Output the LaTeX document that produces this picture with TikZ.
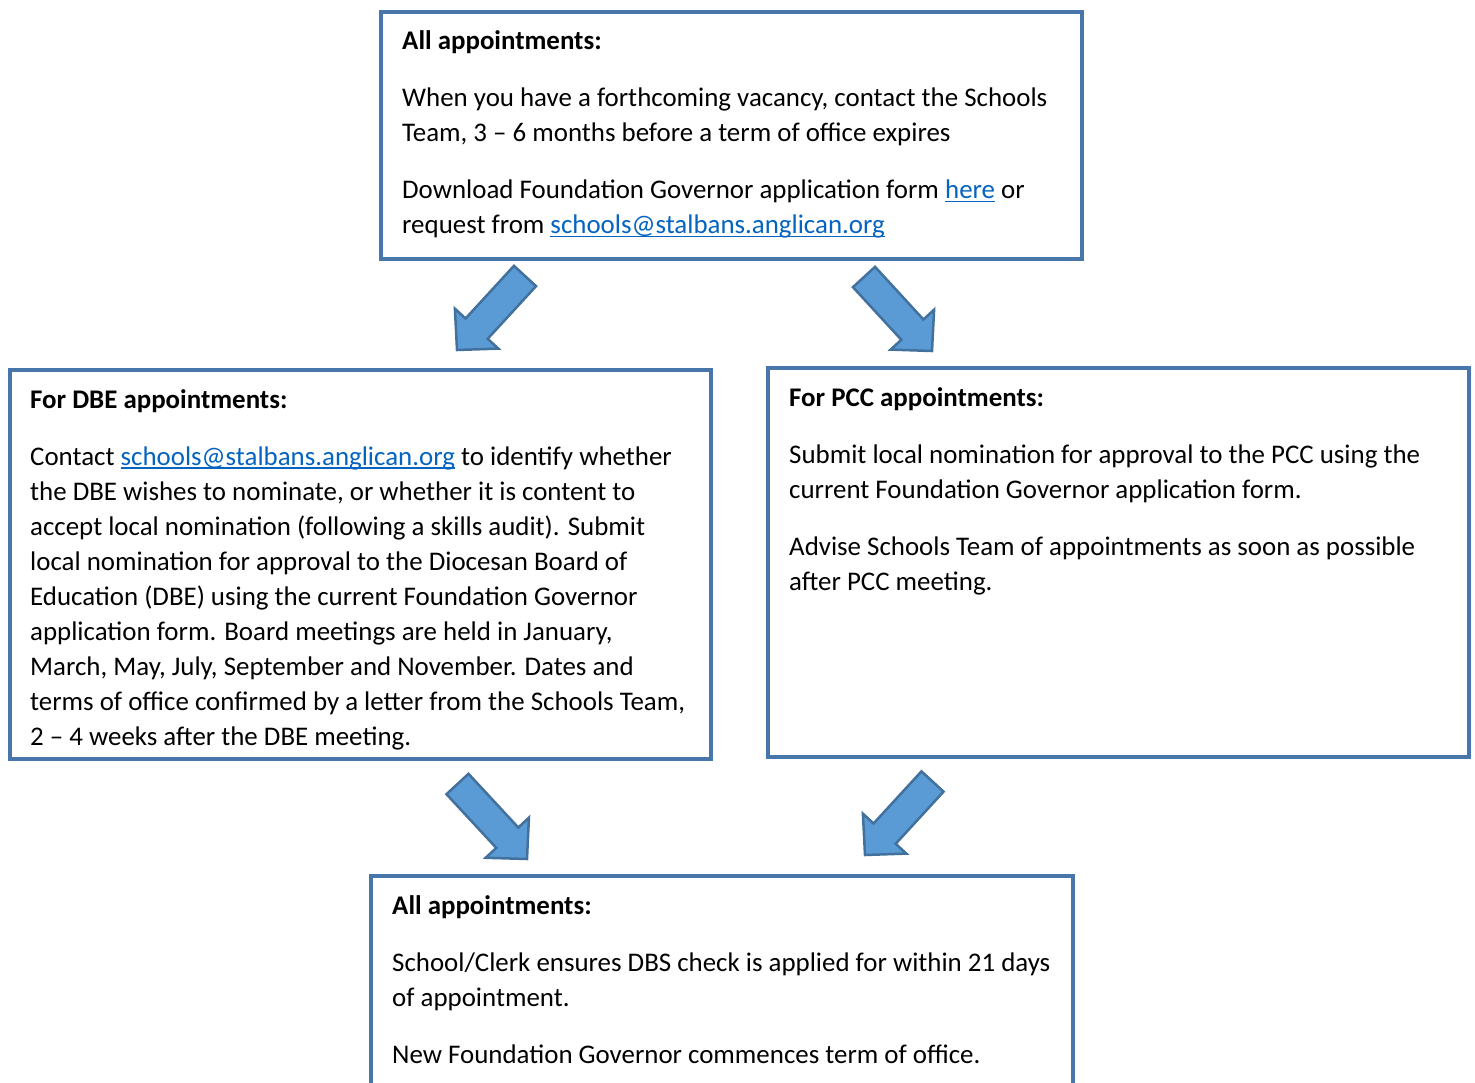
\documentclass[tikz,border=0pt]{standalone}
\usepackage{fontspec}
\setmainfont{Carlito}
\usetikzlibrary{calc}
\definecolor{boxblue}{RGB}{72,118,170}
\definecolor{arrfill}{RGB}{91,155,213}
\definecolor{arrline}{RGB}{65,113,156}
\definecolor{linkblue}{RGB}{5,99,193}
\newcommand\lnk[1]{{\color{linkblue}\setbox0\hbox{#1}\rlap{\rule[-3.5pt]{\wd0}{1.8pt}}\box0}}
\newcommand\blockarrow[2]{%
  \coordinate (#1n) at ($(#2)!29pt!(#1)$);
  \filldraw[blockarr]
    ($(#1)!15pt!90:(#2)$) -- ($(#1n)!15pt!90:(#2)$) -- ($(#1n)!29.5pt!90:(#2)$) -- (#2)
    -- ($(#1n)!29.5pt!-90:(#2)$) -- ($(#1n)!15pt!-90:(#2)$) -- ($(#1)!15pt!-90:(#2)$) -- cycle;
}
\newenvironment{lines}{\begin{tabular}[t]{@{}l@{}}}{\end{tabular}}
\begin{document}
\begin{tikzpicture}[x=1pt,y=-1pt,
  box/.style={draw=boxblue, line width=4pt, inner sep=0pt, outer sep=0pt, anchor=north west},
  txt/.style={anchor=base west, inner sep=0pt, font=\fontsize{26.9}{35}\selectfont},
  blockarr/.style={fill=arrfill, draw=arrline, line width=2.5pt, line join=miter}]
\useasboundingbox (0,0) rectangle (1475,1083);
\fill[white] (0,0) rectangle (1475,1083);
% boxes
\node[box, minimum width=701.5pt, minimum height=247.5pt] (topbox) at (380.5,12) {};
\node[box, minimum width=701.5pt, minimum height=389pt] (dbebox) at (9.5,370) {};
\node[box, minimum width=701.5pt, minimum height=389pt] (pccbox) at (767.5,368) {};
\node[box, minimum width=702pt, minimum height=224.5pt] (endbox) at (371,875.5) {};
% texts
\node[txt] (toptxt) at (402,50) {\begin{lines}\textbf{All appointments:}\\[22pt]
When you have a forthcoming vacancy, contact the Schools\\
Team, 3 – 6 months before a term of office expires\\[22pt]
Download Foundation Governor application form \lnk{here} or\\
request from \lnk{schools@stalbans.anglican.org}\end{lines}};
\node[txt] (dbetxt) at (30,408) {\begin{lines}\textbf{For DBE appointments:}\\[22pt]
Contact \lnk{schools@stalbans.anglican.org} to identify whether\\
the DBE wishes to nominate, or whether it is content to\\
accept local nomination (following a skills audit). Submit\\
local nomination for approval to the Diocesan Board of\\
Education (DBE) using the current Foundation Governor\\
application form. Board meetings are held in January,\\
March, May, July, September and November. Dates and\\
terms of office confirmed by a letter from the Schools Team,\\
2 – 4 weeks after the DBE meeting.\end{lines}};
\node[txt] (pcctxt) at (789,406) {\begin{lines}\textbf{For PCC appointments:}\\[22pt]
Submit local nomination for approval to the PCC using the\\
current Foundation Governor application form.\\[22pt]
Advise Schools Team of appointments as soon as possible\\
after PCC meeting.\end{lines}};
\node[txt] (endtxt) at (392,914) {\begin{lines}\textbf{All appointments:}\\[22pt]
School/Clerk ensures DBS check is applied for within 21 days\\
of appointment.\\[22pt]
New Foundation Governor commences term of office.\end{lines}};
% arrows
\coordinate (a1) at (525,276); \coordinate (b1) at (457,350);
\coordinate (a2) at (864,277); \coordinate (b2) at (932,351);
\coordinate (a3) at (457.5,784); \coordinate (b3) at (527,859);
\coordinate (a4) at (932.5,781.5); \coordinate (b4) at (865,855);
\blockarrow{a1}{b1}
\blockarrow{a2}{b2}
\blockarrow{a3}{b3}
\blockarrow{a4}{b4}
\end{tikzpicture}
\end{document}
